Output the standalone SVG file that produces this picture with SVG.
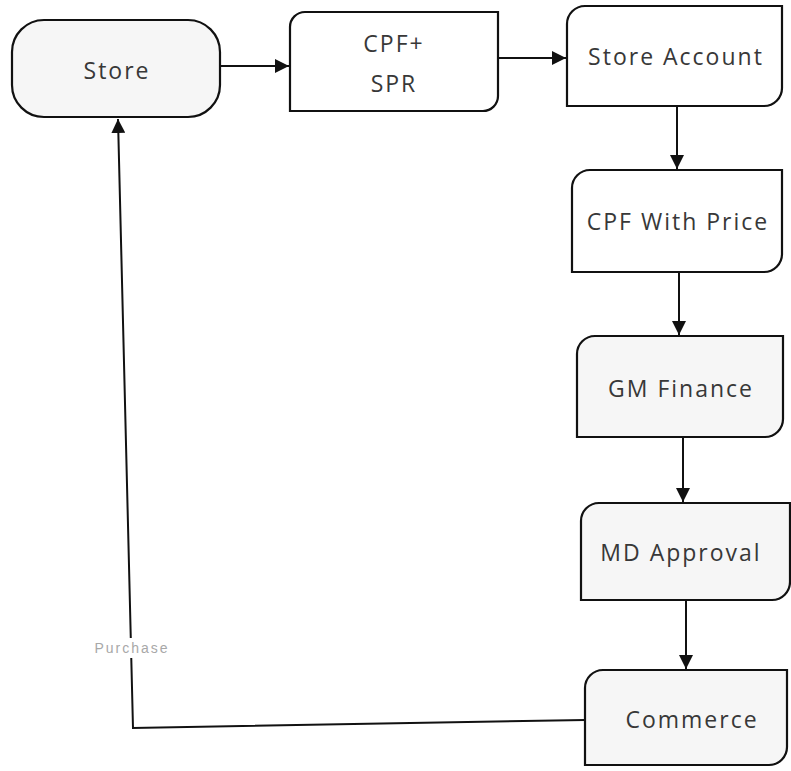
<svg xmlns="http://www.w3.org/2000/svg" width="791" height="771" viewBox="0 0 791 771">
  <style>
    .box { fill: #ffffff; stroke: #111; stroke-width: 2.2; }
    .shaded { fill: #f6f6f6; }
    .lbl { font-family: "Open Sans", "DejaVu Sans", sans-serif; font-size: 23px; letter-spacing: 2px; fill: #383838; text-anchor: middle; }
    .link { fill: none; stroke: #111; stroke-width: 2; }
    .note { font-family: "Liberation Sans", sans-serif; font-size: 14px; letter-spacing: 2px; fill: #a8a8a8; text-anchor: middle; }
  </style>
  <defs>
    <marker id="arrowBig" viewBox="0 0 10 10" refX="10" refY="5" markerWidth="14" markerHeight="14" markerUnits="userSpaceOnUse" orient="auto">
      <path d="M0,0 L10,5 L0,10 Z" fill="#111"/>
    </marker>
  </defs>

  <rect width="791" height="771" fill="#ffffff"/>

  <g id="connectors">
    <line class="link" x1="220" y1="66" x2="289" y2="66" marker-end="url(#arrowBig)"/>
    <line class="link" x1="498" y1="58" x2="566" y2="58" marker-end="url(#arrowBig)"/>
    <line class="link" x1="677" y1="106" x2="677" y2="169" marker-end="url(#arrowBig)"/>
    <line class="link" x1="679" y1="272" x2="679" y2="335" marker-end="url(#arrowBig)"/>
    <line class="link" x1="683" y1="437" x2="683" y2="502" marker-end="url(#arrowBig)"/>
    <line class="link" x1="686" y1="600" x2="686" y2="669" marker-end="url(#arrowBig)"/>
    <polyline class="link" points="585,720 133,728 118,119" marker-end="url(#arrowBig)"/>
    <rect x="84" y="638" width="96" height="20" fill="#ffffff"/>
    <text class="note" x="132" y="653">Purchase</text>
  </g>

  <g id="store">
    <rect class="box shaded" x="12" y="20" width="208" height="97" rx="32" ry="32"/>
    <text class="lbl" x="117" y="79">Store</text>
  </g>

  <g id="cpf-spr">
    <path class="box" d="M290,27 A15,15 0 0 1 305,12 H498 V96 A15,15 0 0 1 483,111 H290 Z"/>
    <text class="lbl" x="394" y="52">CPF+</text>
    <text class="lbl" x="394" y="92">SPR</text>
  </g>

  <g id="store-account">
    <path class="box" d="M567,24 A18,18 0 0 1 585,6 H782 V88 A18,18 0 0 1 764,106 H567 Z"/>
    <text class="lbl" x="676" y="65">Store Account</text>
  </g>

  <g id="cpf-with-price">
    <path class="box" d="M572,188 A18,18 0 0 1 590,170 H782 V254 A18,18 0 0 1 764,272 H572 Z"/>
    <text class="lbl" x="678" y="230">CPF With Price</text>
  </g>

  <g id="gm-finance">
    <path class="box shaded" d="M577,354 A18,18 0 0 1 595,336 H783 V419 A18,18 0 0 1 765,437 H577 Z"/>
    <text class="lbl" x="681" y="397">GM Finance</text>
  </g>

  <g id="md-approval">
    <path class="box shaded" d="M581,521 A18,18 0 0 1 599,503 H790 V582 A18,18 0 0 1 772,600 H581 Z"/>
    <text class="lbl" x="681" y="561">MD Approval</text>
  </g>

  <g id="commerce">
    <path class="box shaded" d="M585,688 A18,18 0 0 1 603,670 H787 V747 A18,18 0 0 1 769,765 H585 Z"/>
    <text class="lbl" x="692" y="728">Commerce</text>
  </g>
</svg>
